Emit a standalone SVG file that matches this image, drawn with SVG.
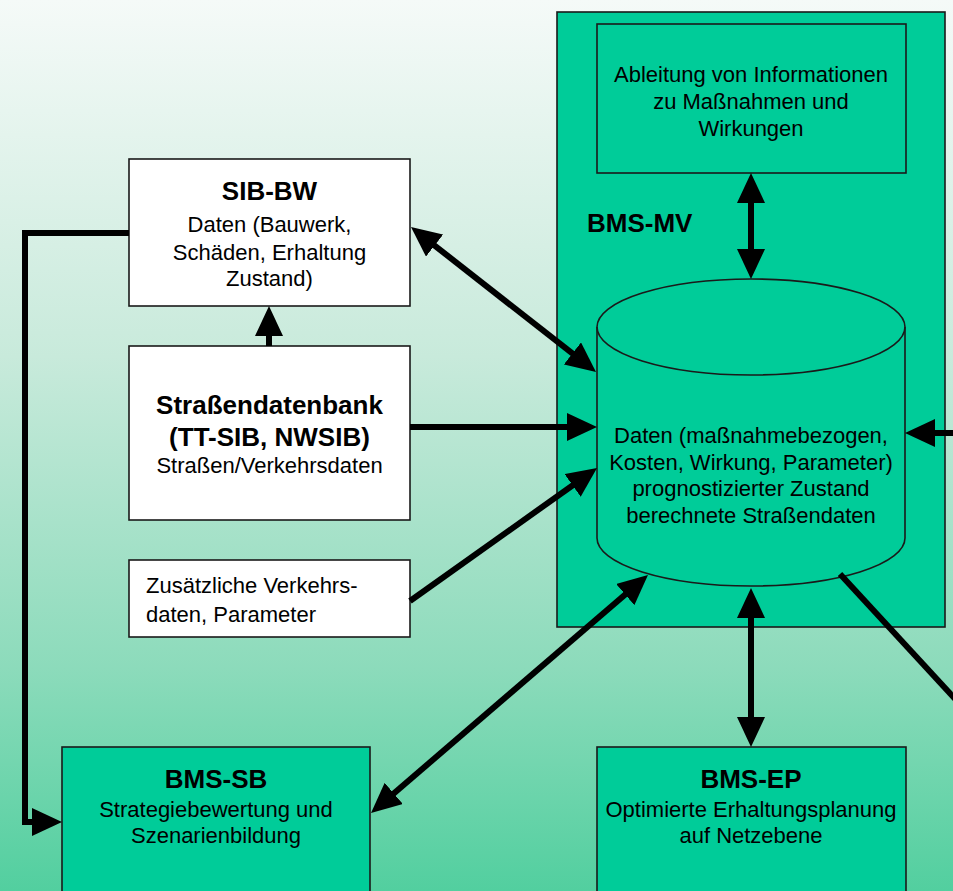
<svg xmlns="http://www.w3.org/2000/svg" width="953" height="891" viewBox="0 0 953 891">
<defs>
<linearGradient id="bg" x1="0" y1="0" x2="0" y2="1">
<stop offset="0" stop-color="#f5faf8"/>
<stop offset="0.4" stop-color="#c8eadb"/>
<stop offset="0.75" stop-color="#8cdbbb"/>
<stop offset="1" stop-color="#52cf9f"/>
</linearGradient>
<marker id="ah" viewBox="0 0 30 28" refX="15" refY="14" markerWidth="30" markerHeight="28" markerUnits="userSpaceOnUse" orient="auto-start-reverse">
<path d="M0,0 L30,14 L0,28 Z" fill="#000"/>
</marker>
<style>
.box{stroke:#1a1a1a;stroke-width:1.6}
.white{fill:#ffffff}
.green{fill:#00cc99}
.t{font-family:"Liberation Sans",Arial,sans-serif;font-size:22px;fill:#000;text-anchor:middle}
.b{font-family:"Liberation Sans",Arial,sans-serif;font-size:26px;font-weight:bold;fill:#000;text-anchor:middle}
.c{fill:none;stroke:#000;stroke-width:6;stroke-linejoin:miter}
</style>
</defs>
<rect x="0" y="0" width="953" height="891" fill="url(#bg)"/>

<g id="bms-mv">
<rect class="box green" x="557" y="12" width="388" height="615"/>
<text class="b" x="587" y="232" style="text-anchor:start">BMS-MV</text>
</g>

<g id="ableitung">
<rect class="box green" x="597" y="24" width="309" height="149"/>
<text class="t" x="751" y="82">Ableitung von Informationen</text>
<text class="t" x="751" y="109">zu Maßnahmen und</text>
<text class="t" x="751" y="136">Wirkungen</text>
</g>

<g id="datenbank">
<path class="box green" d="M597,327 V538 A154,48 0 0 0 905,538 V327 A154,48 0 0 0 597,327 Z"/>
<path class="box" fill="none" d="M597,327 A154,48 0 0 0 905,327"/>
<text class="t" x="751" y="443">Daten (maßnahmebezogen,</text>
<text class="t" x="751" y="470">Kosten, Wirkung, Parameter)</text>
<text class="t" x="751" y="496">prognostizierter Zustand</text>
<text class="t" x="751" y="523">berechnete Straßendaten</text>
</g>

<g id="sib-bw">
<rect class="box white" x="129" y="159" width="281" height="147"/>
<text class="b" x="269.5" y="200">SIB-BW</text>
<text class="t" x="269.5" y="232">Daten (Bauwerk,</text>
<text class="t" x="269.5" y="260">Schäden, Erhaltung</text>
<text class="t" x="269.5" y="286">Zustand)</text>
</g>

<g id="strassendatenbank">
<rect class="box white" x="129" y="346" width="281" height="174"/>
<text class="b" x="269.5" y="414">Straßendatenbank</text>
<text class="b" x="269.5" y="446">(TT-SIB, NWSIB)</text>
<text class="t" x="269.5" y="473">Straßen/Verkehrsdaten</text>
</g>

<g id="zusaetzliche">
<rect class="box white" x="129" y="560" width="281" height="77"/>
<text class="t" x="146" y="593" style="text-anchor:start">Zusätzliche Verkehrs-</text>
<text class="t" x="146" y="622" style="text-anchor:start">daten, Parameter</text>
</g>

<g id="bms-sb">
<rect class="box green" x="62" y="747" width="308" height="160"/>
<text class="b" x="216" y="788">BMS-SB</text>
<text class="t" x="216" y="817">Strategiebewertung und</text>
<text class="t" x="216" y="843">Szenarienbildung</text>
</g>

<g id="bms-ep">
<rect class="box green" x="597" y="747" width="309" height="160"/>
<text class="b" x="751" y="788">BMS-EP</text>
<text class="t" x="751" y="817">Optimierte Erhaltungsplanung</text>
<text class="t" x="751" y="843">auf Netzebene</text>
</g>

<g id="connectors">
<path class="c" d="M129,233 H25 V822 H47" marker-end="url(#ah)"/>
<path class="c" d="M269,346 V321" marker-end="url(#ah)"/>
<path class="c" d="M422.8,236.3 L584.2,362.7" marker-start="url(#ah)" marker-end="url(#ah)"/>
<path class="c" d="M410,427 H582" marker-end="url(#ah)"/>
<path class="c" d="M410,601 L584.8,476.7" marker-end="url(#ah)"/>
<path class="c" d="M751,188 V264" marker-start="url(#ah)" marker-end="url(#ah)"/>
<path class="c" d="M960,433 H920" marker-end="url(#ah)"/>
<path class="c" d="M636.6,584.8 L382.4,803.2" marker-start="url(#ah)" marker-end="url(#ah)"/>
<path class="c" d="M751,603 V732" marker-start="url(#ah)" marker-end="url(#ah)"/>
<path class="c" d="M840,574 L970,715"/>
</g>
</svg>
